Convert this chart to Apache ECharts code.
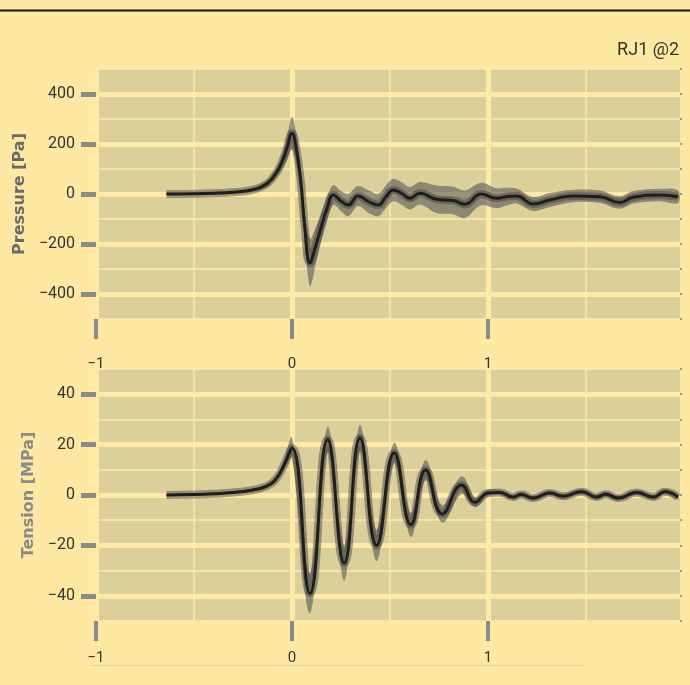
<!DOCTYPE html>
<html>
<head>
<meta charset="utf-8">
<script src="https://cdn.jsdelivr.net/npm/echarts@6/dist/echarts.min.js"></script>
<style>
html,body{margin:0;padding:0;background:#fee8a2;}
#main{width:690px;height:685px;}
</style>
</head>
<body>
<div id="main"></div>
<script>
// time axis (s) and readings, picked off the plot by eye
var pressureT = [-0.64,-0.5,-0.4,-0.3,-0.2,-0.13,-0.08,-0.05,-0.025,0,0.02,0.045,0.065,0.092,0.12,0.15,0.18,0.211,0.25,0.287,0.338,0.39,0.44,0.48,0.517,0.56,0.602,0.653,0.738,0.823,0.883,0.965,1.044,1.1,1.146,1.231,1.316,1.435,1.571,1.673,1.741,1.878,1.97];
var pressureVal = [0,1,3,7,17,40,85,130,185,243,190,50,-130,-275,-210,-130,-55,-4,-28,-44,-8,-30,-44,-10,16,2,-17,3,-21,-26,-41,0,-17,-10,-8,-40,-24,-8,-11,-34,-13,-4,-11];
var pressureSpread = [4,4,5,6,8,12,18,28,45,65,60,55,60,95,75,55,45,40,40,45,40,45,45,45,45,45,45,45,55,55,55,45,40,35,30,28,28,25,25,25,25,25,25];

// tension: turning points of the ringing
var tensionT = [-0.64,-0.5,-0.4,-0.3,-0.2,-0.13,-0.08,-0.04,0,0.092,0.182,0.267,0.347,0.432,0.522,0.607,0.682,0.767,0.866,0.934,1.0,1.06,1.128,1.17,1.23,1.316,1.383,1.478,1.554,1.6,1.665,1.758,1.844,1.903,1.97];
var tensionVal = [0,0.2,0.5,1,2,3.5,6.5,12,18.7,-39,22,-27,22.6,-20,16.7,-11.8,9.9,-7.5,3.9,-2.9,0.8,1,-0.8,0.2,-1.2,0.8,-0.5,1.3,-0.8,0.3,-1.2,1,-0.8,1.3,-0.8];
var tensionSpread = [0.4,0.4,0.4,0.5,0.6,0.8,1.2,2,4,8,5,7,5.2,6.3,4,4.8,4,3.5,3.5,2,1.2,1,1,1,1,1,1,1,1,1,1,1,1,1,1];

var xTicks = [-1, 0, 1];
var pressureTicks = [-400, -200, 0, 200, 400];
var tensionTicks = [-40, -20, 0, 20, 40];

var bg = '#fee8a2', plotBg = '#dcd09a', gridMajor = '#fdeaa6', gridMinor = 'rgba(253,234,170,0.75)';
var tickGray = '#8a8a8a';

function pairs(xs, ys) {
    return xs.map(function (x, i) { return [x, ys[i]]; });
}
function minus(v) {
    return String(v).replace('-', '\u2212');
}

function xAxisFor(gi, margin) {
    return {
        type: 'value', gridIndex: gi, min: -1, max: 1.98, interval: 1,
        axisLine: { show: false, onZero: false },
        axisTick: { show: true, customValues: xTicks, length: 20, lineStyle: { color: tickGray, width: 4 } },
        axisLabel: { customValues: xTicks, margin: margin, fontFamily: 'Roboto', fontSize: 15, color: '#333', formatter: minus },
        splitLine: { show: true, lineStyle: { color: gridMajor, width: 5 } },
        minorTick: { show: false, splitNumber: 2 },
        minorSplitLine: { show: true, lineStyle: { color: gridMinor, width: 2 } }
    };
}
function yMain(gi, lim, ticks, name, gap, nameColor) {
    return {
        type: 'value', gridIndex: gi, min: -lim, max: lim, interval: lim / 5,
        name: name, nameLocation: 'middle', nameGap: gap,
        nameTextStyle: { fontFamily: 'DejaVu Sans', fontWeight: 'bold', fontSize: 16, color: nameColor },
        axisLine: { show: false, onZero: false },
        axisTick: { show: true, customValues: ticks, length: 15, lineStyle: { color: tickGray, width: 5 } },
        axisLabel: { customValues: ticks, margin: 21, fontFamily: 'Roboto', fontSize: 16, color: '#333', formatter: minus },
        splitLine: { show: true, lineStyle: { color: gridMajor, width: 5 } }
    };
}
function yMinor(gi, lim) {
    return {
        type: 'value', gridIndex: gi, min: -lim, max: lim, interval: lim / 5,
        axisLine: { show: false, onZero: false },
        axisLabel: { show: false },
        axisTick: { show: true, length: 2, lineStyle: { color: '#999', width: 2 } },
        splitLine: { show: true, lineStyle: { color: gridMinor, width: 2 } }
    };
}
// grey spread band: one closed smooth polygon through the library's coords
function band(idx, xs, ys, s) {
    return {
        type: 'custom', xAxisIndex: idx, yAxisIndex: idx * 2, silent: true, clip: true,
        data: xs.map(function (x, i) { return [x, ys[i] - s[i], ys[i] + s[i]]; }),
        encode: { x: 0, y: [1, 2] },
        renderItem: function (params, api) {
            if (params.dataIndex !== 0) return null;
            var pts = [];
            for (var i = 0; i < xs.length; i++) pts.push(api.coord([xs[i], ys[i] + s[i]]));
            for (var j = xs.length - 1; j >= 0; j--) pts.push(api.coord([xs[j], ys[j] - s[j]]));
            return { type: 'polygon', shape: { points: pts, smooth: 0.35, smoothConstraint: null }, style: { fill: 'rgba(85,85,85,0.58)' } };
        }
    };
}
function traces(idx, xs, ys, s) {
    var base = { type: 'line', xAxisIndex: idx, yAxisIndex: idx * 2, symbol: 'none', smooth: 0.5, silent: true };
    return [
        band(idx, xs, ys, s),
        Object.assign({}, base, { data: pairs(xs, ys), lineStyle: { color: 'rgba(60,60,60,0.45)', width: 8 } }),
        Object.assign({}, base, { data: pairs(xs, ys), lineStyle: { color: '#1e1e1e', width: 3 } })
    ];
}

var myChart = echarts.init(document.getElementById('main'));
myChart.setOption({
    backgroundColor: bg,
    animation: false,
    title: {
        text: 'RJ1 @2', right: 6, top: 36,
        textStyle: { fontFamily: 'Roboto', fontWeight: 'normal', fontSize: 18, color: '#333' }
    },
    graphic: [
        { type: 'line', shape: { x1: 0, y1: 10.5, x2: 690, y2: 10.5 }, style: { stroke: '#111', lineWidth: 2 }, silent: true },
        { type: 'line', shape: { x1: 90, y1: 665.5, x2: 583, y2: 665.5 }, style: { stroke: '#e4d49c', lineWidth: 1 }, silent: true }
    ],
    grid: [
        { left: 96, right: 10, top: 69, height: 250, show: true, backgroundColor: plotBg, borderWidth: 0 },
        { left: 96, right: 10, top: 369, height: 252, show: true, backgroundColor: plotBg, borderWidth: 0 }
    ],
    xAxis: [xAxisFor(0, 38), xAxisFor(1, 30)],
    yAxis: [
        yMain(0, 500, pressureTicks, 'Pressure [Pa]', 60, '#6a6a6a'),
        yMinor(0, 500),
        yMain(1, 50, tensionTicks, 'Tension [MPa]', 53, '#8a8a8a'),
        yMinor(1, 50)
    ],
    series: [].concat(
        traces(0, pressureT, pressureVal, pressureSpread),
        traces(1, tensionT, tensionVal, tensionSpread)
    )
});
</script>
</body>
</html>
